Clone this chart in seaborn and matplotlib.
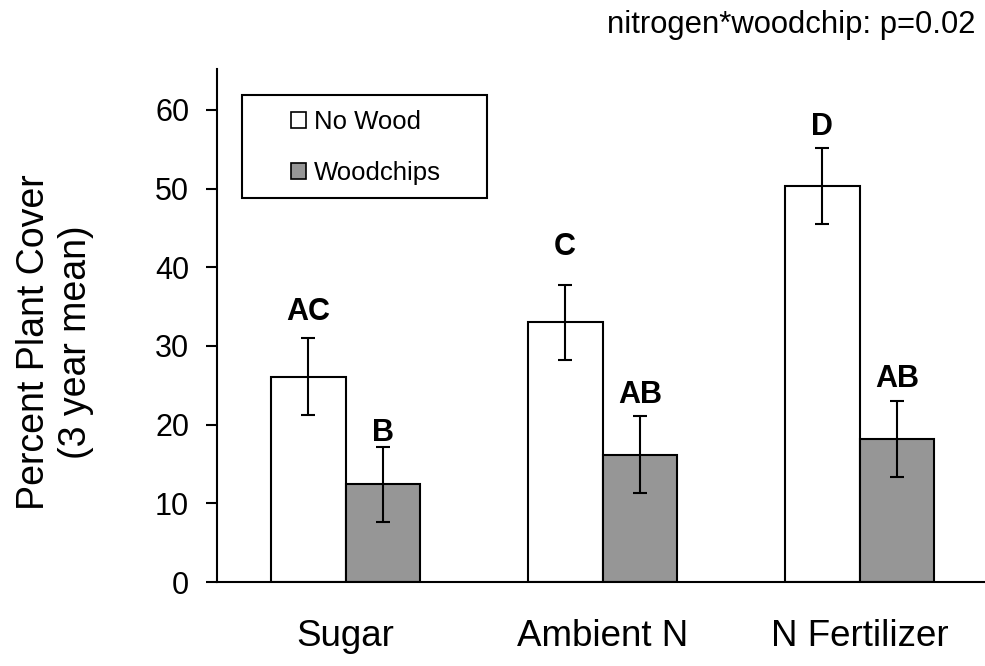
import matplotlib
matplotlib.use("Agg")
import matplotlib.pyplot as plt
import matplotlib.patches as mpatches
import seaborn as sns
import pandas as pd

# ---- data ----
treatments = ["Sugar", "Ambient N", "N Fertilizer"]
wood_levels = ["No Wood", "Woodchips"]
no_wood_mean = [26.1, 33.0, 50.3]
woodchips_mean = [12.4, 16.2, 18.2]
no_wood_err = [4.85, 4.8, 4.8]
woodchips_err = [4.8, 4.9, 4.85]
no_wood_letters = ["AC", "C", "D"]
woodchips_letters = ["B", "AB", "AB"]
y_ticks = [0, 10, 20, 30, 40, 50, 60]
annotation = "nitrogen*woodchip: p=0.02"
ylabel = "Percent Plant Cover\n(3 year mean)"

df = pd.DataFrame({
    "treatment": treatments * 2,
    "wood": [wood_levels[0]] * 3 + [wood_levels[1]] * 3,
    "cover": no_wood_mean + woodchips_mean,
})

# ---- style ----
sns.set_theme(style="white")
plt.rcParams["font.family"] = ["Liberation Sans", "DejaVu Sans"]
W, H = 985, 666
fig = plt.figure(figsize=(W / 100, H / 100), dpi=100)
ax_left, ax_right, ax_top, ax_bottom = 217, 988, 69, 582
ax = fig.add_axes([ax_left / W, 1 - ax_bottom / H, (ax_right - ax_left) / W, (ax_bottom - ax_top) / H])

sns.barplot(data=df, x="treatment", y="cover", hue="wood", order=treatments,
            hue_order=wood_levels, palette=["white", "#969696"], width=0.58,
            edgecolor="black", linewidth=1.5, errorbar=None, ax=ax, saturation=1,
            legend=False)

errs = [no_wood_err, woodchips_err]
letters = [no_wood_letters, woodchips_letters]
letter_pad = [[13, 21, 10], [4, 9, 10]]
bars = sorted([p for p in ax.patches if isinstance(p, mpatches.Rectangle) and p.get_height() > 0],
              key=lambda p: p.get_x())
for k, bar in enumerate(bars):
    j, i = k // 2, k % 2
    x = bar.get_x() + bar.get_width() / 2
    h = bar.get_height()
    ax.errorbar(x, h, yerr=errs[i][j], fmt="none", ecolor="black",
                elinewidth=1.5, capsize=5, capthick=1.5, zorder=5)
    ax.annotate(letters[i][j], (x, h + errs[i][j]), xytext=(0, letter_pad[i][j]),
                textcoords="offset points", ha="center", va="baseline",
                fontsize=22, fontweight="bold", color="black")

ax.set_xlim(-0.5, 2.5)
ax.set_ylim(0, 65.2)
ax.set_yticks(y_ticks)
ax.set_xlabel("")
ax.set_ylabel("")
for s in ["top", "right"]:
    ax.spines[s].set_visible(False)
for s in ["left", "bottom"]:
    ax.spines[s].set_color("black")
    ax.spines[s].set_linewidth(1.5)
ax.tick_params(axis="y", direction="out", length=8, width=1.5, color="black",
               labelsize=22, pad=12, left=True, labelcolor="black")
ax.tick_params(axis="x", length=0, labelsize=26.5, pad=27, labelcolor="black")

# legend
leg_handles = [mpatches.Patch(facecolor="white", edgecolor="black", linewidth=1.2),
               mpatches.Patch(facecolor="#969696", edgecolor="black", linewidth=1.2)]
ax.legend(leg_handles, wood_levels, loc="upper left",
          bbox_to_anchor=(291 / W, 1 - 110 / H), bbox_transform=fig.transFigure,
          frameon=False, fontsize=18.5, handlelength=0.6, handleheight=0.6,
          handletextpad=0.3, borderpad=0, borderaxespad=0, labelspacing=1.05,
          labelcolor="black")
fig.patches.append(mpatches.Rectangle((242 / W, 1 - 198 / H), (487 - 242) / W, (198 - 95) / H,
                                      transform=fig.transFigure, fill=False,
                                      edgecolor="black", linewidth=1.5, zorder=10))

fig.text(55 / W, 1 - 342 / H, ylabel, rotation=90, ha="center", va="center",
         multialignment="center", fontsize=27, color="black")
fig.text(975 / W, 1 - 33 / H, annotation, ha="right", va="baseline", fontsize=22.3, color="black")

fig.savefig("out.png", dpi=100)
